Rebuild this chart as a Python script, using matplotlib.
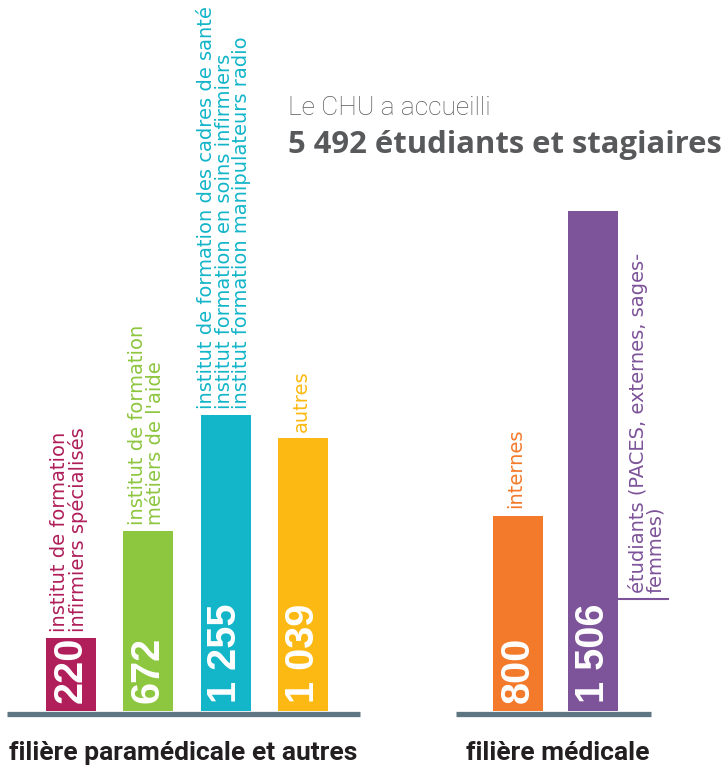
import matplotlib.pyplot as plt

# categories and values
para_labels = [
    "institut de formation\ninfirmiers spécialisés",
    "institut de formation\nmétiers de l'aide",
    "institut de formation des cadres de santé\ninstitut formation en soins infirmiers\ninstitut formation manipulateurs radio",
    "autres",
]
para_values = [220, 672, 1255, 1039]
med_labels = ["internes", "étudiants (PACES, externes, sages-\nfemmes)"]
med_values = [800, 1506]

# the infographic is not drawn to scale: bar lengths as drawn,
# in units where the 1 506 bar is 1 506 long
para_drawn = [220, 542, 892, 822]
med_drawn = [587, 1506]

para_colors = ["#B01F5A", "#8DC63F", "#13B5C9", "#FDB913"]
med_colors = ["#F47A2B", "#7D5399"]

group_names = ["filière paramédicale et autres", "filière médicale"]
total = 5492

W, H = 726, 766
fig = plt.figure(figsize=(W / 100, H / 100), dpi=100)
base_px = 711
ax = fig.add_axes([0, (H - base_px) / H, 1, base_px / H])
upp = 1506 / 500  # value units per pixel
ax.set_xlim(0, W)
ax.set_ylim(0, base_px * upp)
ax.axis("off")

bar_w = 50
para_x = [70.5 + 77.5 * i for i in range(len(para_values))]
med_x = [518 + 75 * i for i in range(len(med_values))]


def fmt(v):
    return f"{v:,}".replace(",", " ")


def draw_bars(xs, drawn, values, colors):
    ax.bar(xs, drawn, width=bar_w, color=colors, align="center", zorder=2)
    for x, v in zip(xs, values):
        ax.annotate(fmt(v), (x, 0), xytext=(0, 5.5), textcoords="offset points",
                    rotation=90, ha="center", va="bottom", color="white",
                    fontsize=28.5, fontweight="bold", family="Liberation Sans",
                    zorder=3)


draw_bars(para_x, para_drawn, para_values, para_colors)
draw_bars(med_x, med_drawn, med_values, med_colors)

# category labels above bars
lab_font = dict(fontsize=14, family="DejaVu Sans", rotation=90, ha="center",
                va="bottom", linespacing=0.9, multialignment="left")
for x, h, lab, c in zip(para_x, para_drawn, para_labels, para_colors):
    ax.annotate(lab, (x, h), xytext=(-1, 4.5), textcoords="offset points",
                color=c, **lab_font)
ax.annotate(med_labels[0], (med_x[0], med_drawn[0]), xytext=(-2, 5.5),
            textcoords="offset points", color=med_colors[0], **lab_font)

# side label for the last bar, with its rule
right = med_x[1] + bar_w / 2
ax.annotate(med_labels[1], (right, 0), xytext=(7, 85), textcoords="offset points",
            color=med_colors[1], fontsize=14, family="DejaVu Sans",
            rotation=90, ha="left", va="bottom", linespacing=0.9,
            multialignment="left")
ax.plot([right, right + 51], [112 * upp, 112 * upp], color=med_colors[1],
        lw=1.5, solid_capstyle="butt")

# baselines
yb = -2.5 * upp
ax.plot([7, 360], [yb, yb], color="#5E7582", lw=3.8, solid_capstyle="butt",
        clip_on=False, zorder=1)
ax.plot([456, 651], [yb, yb], color="#5E7582", lw=3.8, solid_capstyle="butt",
        clip_on=False, zorder=1)

# group names
for gx, name in zip([183, 558], group_names):
    fig.text(gx / W, 1 - 760 / H, name, ha="center", va="baseline",
             fontsize=19, fontweight="bold", family="Roboto",
             color="#231F20")

# headline
fig.text(288 / W, 1 - 115 / H, "Le CHU a accueilli", ha="left", va="baseline",
         fontsize=19, family="Roboto", fontweight="light", color="#58595B")
fig.text(288 / W, 1 - 153 / H, f"{fmt(total)} étudiants et stagiaires",
         ha="left", va="baseline", fontsize=22.3, family="Open Sans",
         fontweight="bold", color="#58595B")

fig.savefig("out.png", dpi=100)
